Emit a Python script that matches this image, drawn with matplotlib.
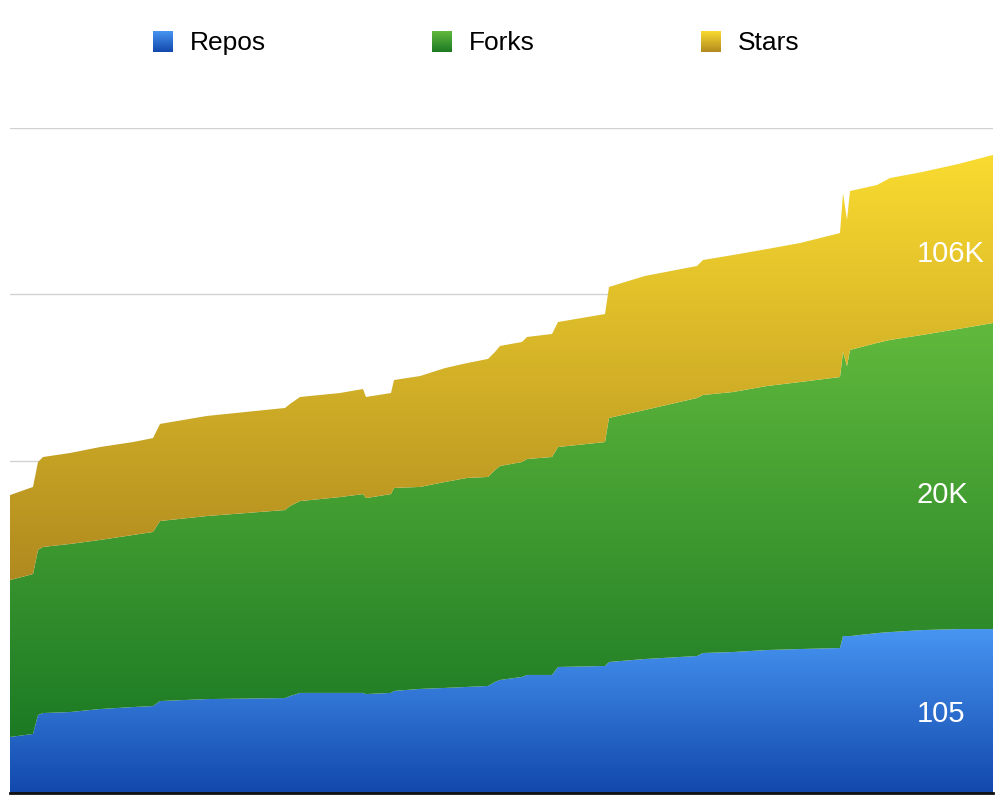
import numpy as np
import matplotlib
matplotlib.use("Agg")
import matplotlib.pyplot as plt
from matplotlib.colors import LinearSegmentedColormap

plt.rcParams['font.family'] = ['Liberation Sans', 'DejaVu Sans']

# time axis (days from start)
days = [0, 23, 28, 33, 60, 90, 123, 143, 150, 197, 275, 280, 290, 330, 353, 356,
        381, 384, 410, 435, 457, 478, 485, 490, 512, 517, 542, 548, 595, 599,
        635, 687, 693, 723, 757, 790, 830, 833, 837, 840, 867, 880, 912, 948, 983]

# stacked levels (top of each band), chart units
repos_level = [33.7, 35.5, 46.9, 48.1, 48.7, 50.5, 51.7, 52.3, 55.3, 56.5, 57.1, 58.3,
               60.2, 60.2, 60.2, 59.5, 60.2, 61.4, 62.6, 63.2, 63.8, 64.4, 66.8, 68.0,
               69.8, 71.0, 71.0, 75.8, 76.4, 78.8, 80.6, 82.4, 84.2, 84.8, 86.0, 86.6,
               87.2, 94.4, 94.4, 94.4, 96.2, 96.8, 98.0, 98.6, 98.6]
forks_level = [128.1, 131.7, 146.2, 148.0, 149.8, 152.2, 155.2, 157.0, 163.6, 166.6,
               170.2, 172.6, 175.6, 178.0, 179.8, 177.4, 179.8, 183.5, 184.1, 187.1,
               189.5, 190.1, 194.3, 196.7, 199.1, 200.9, 202.1, 208.1, 211.1, 225.6,
               230.4, 237.6, 239.4, 241.2, 244.8, 247.2, 250.2, 265.3, 256.8, 266.5,
               270.7, 272.5, 275.5, 279.1, 282.7]
stars_level = [179.2, 184.1, 199.1, 202.1, 204.5, 208.1, 211.1, 213.5, 222.0, 226.8,
               231.6, 234.0, 238.2, 240.6, 243.0, 238.2, 240.6, 248.4, 250.8, 255.6,
               258.6, 261.1, 265.3, 268.9, 271.3, 274.3, 276.1, 283.3, 288.1, 304.4,
               311.0, 317.0, 320.6, 323.6, 327.2, 330.8, 336.8, 360.9, 344.7, 362.1,
               365.7, 369.9, 373.5, 378.3, 383.8]

series_names = ['Repos', 'Forks', 'Stars']
end_labels = ['105', '20K', '106K']
# (bottom colour, top colour)
band_colors = [('#1248ac', '#4795f2'),
               ('#1c7a24', '#61b93c'),
               ('#b08a1f', '#f9db30')]

fig = plt.figure(figsize=(10, 8.07), dpi=100)
ax = fig.add_axes([0.010, 1 - 793 / 807, 0.983, (793 - 128) / 807])

x = np.array(days)
lowers = [np.zeros(len(days)), np.array(repos_level), np.array(forks_level)]
uppers = [np.array(repos_level), np.array(forks_level), np.array(stars_level)]

grad = np.linspace(0, 1, 256).reshape(-1, 1)
for lo, up, (c0, c1) in zip(lowers, uppers, band_colors):
    poly = ax.fill_between(x, lo, up, color='none', lw=0)
    cmap = LinearSegmentedColormap.from_list('g', [c0, c1])
    im = ax.imshow(grad, extent=[x[0], x[-1], lo.min(), up.max()], aspect='auto',
                   origin='lower', cmap=cmap, zorder=2, interpolation='bilinear')
    im.set_clip_path(poly.get_paths()[0], transform=ax.transData)

ax.set_xlim(days[0], days[-1])
ax.set_ylim(0, 400)
ax.set_yticks([100, 200, 300, 400])
ax.set_xticks([])
ax.grid(axis='y', color='#d2d2d2', lw=1.0)
ax.set_axisbelow(True)
ax.tick_params(left=False, labelleft=False)
for s in ['top', 'left', 'right']:
    ax.spines[s].set_visible(False)
ax.spines['bottom'].set_color('#111111')
ax.spines['bottom'].set_linewidth(2)
ax.spines['bottom'].set_zorder(3)

label_y = [47.5, 179.3, 324.2]
for txt, yy in zip(end_labels, label_y):
    ax.text(907, yy, txt, color='white', fontsize=21, va='center', ha='left', zorder=4)

# legend with gradient swatches
sw_x = [153, 432, 701]
for name, px, (c0, c1) in zip(series_names, sw_x, band_colors):
    sax = fig.add_axes([px / 1000, 1 - 52 / 807, 20 / 1000, 21 / 807])
    sax.imshow(grad, aspect='auto', origin='lower',
               cmap=LinearSegmentedColormap.from_list('s', [c0, c1]))
    sax.axis('off')
    fig.text((px + 37) / 1000, 1 - 43 / 807, name, fontsize=19, va='center', ha='left')

fig.savefig('out.png', dpi=100)
